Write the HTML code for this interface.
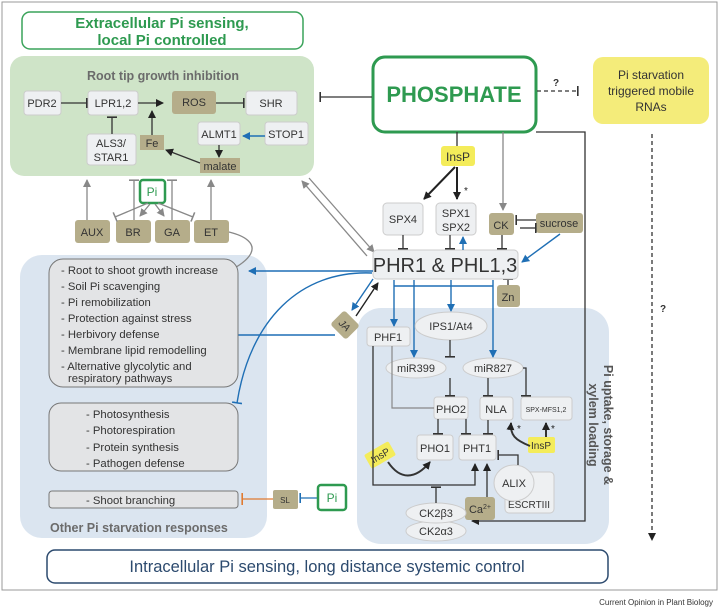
<!DOCTYPE html>
<html><head><meta charset="utf-8"><style>
body{margin:0;background:#fff}
svg{display:block;font-family:"Liberation Sans",sans-serif}
</style></head><body>
<svg width="720" height="615" viewBox="0 0 720 615" xmlns="http://www.w3.org/2000/svg">
<defs>
<marker id="ab" markerWidth="8" markerHeight="8" refX="7" refY="4" orient="auto" markerUnits="userSpaceOnUse"><path d="M0,0 L8,4 L0,8 z" fill="#222"/></marker>
<marker id="ag" markerWidth="8" markerHeight="8" refX="7" refY="4" orient="auto" markerUnits="userSpaceOnUse"><path d="M0,0 L8,4 L0,8 z" fill="#888"/></marker>
<marker id="au" markerWidth="8" markerHeight="8" refX="7" refY="4" orient="auto" markerUnits="userSpaceOnUse"><path d="M0,0 L8,4 L0,8 z" fill="#1f6fb5"/></marker>
<marker id="tb" markerWidth="2" markerHeight="10" refX="1" refY="5" orient="auto" markerUnits="userSpaceOnUse"><rect x="0" y="0" width="1.6" height="10" fill="#333"/></marker>
<marker id="tg" markerWidth="2" markerHeight="10" refX="1" refY="5" orient="auto" markerUnits="userSpaceOnUse"><rect x="0" y="0" width="1.6" height="10" fill="#888"/></marker>
<marker id="tu" markerWidth="2" markerHeight="10" refX="1" refY="5" orient="auto" markerUnits="userSpaceOnUse"><rect x="0" y="0" width="1.6" height="10" fill="#1f6fb5"/></marker>
<marker id="to" markerWidth="2" markerHeight="12" refX="1" refY="6" orient="auto" markerUnits="userSpaceOnUse"><rect x="0" y="0" width="1.6" height="12" fill="#e07a30"/></marker>
</defs>
<rect x="2" y="2" width="715" height="588" fill="none" stroke="#999" stroke-width="1"/>

<rect x="10" y="56" width="304" height="120" rx="14" fill="#cfe4c8"/>
<rect x="20" y="255" width="247" height="283" rx="22" fill="#dbe5f0"/>
<rect x="357" y="308" width="252" height="236" rx="24" fill="#dbe5f0"/>

<rect x="22" y="12" width="281" height="37" rx="8" fill="#fff" stroke="#3aa35a" stroke-width="1.5"/>
<text x="162" y="28" text-anchor="middle" font-size="15" font-weight="bold" fill="#2e9a50">Extracellular Pi sensing,</text>
<text x="162" y="45" text-anchor="middle" font-size="15" font-weight="bold" fill="#2e9a50">local Pi controlled</text>

<text x="163" y="80" text-anchor="middle" font-size="12.5" font-weight="bold" fill="#6b6b6b">Root tip growth inhibition</text>
<g font-size="11" fill="#333" text-anchor="middle">
<rect x="24" y="91" width="37" height="24" rx="3" fill="#eef0f2" stroke="#ccc"/><text x="42" y="107">PDR2</text>
<rect x="88" y="91" width="50" height="24" rx="3" fill="#eef0f2" stroke="#ccc"/><text x="113" y="107">LPR1,2</text>
<rect x="172" y="91" width="44" height="23" rx="3" fill="#b5ad8a"/><text x="194" y="106">ROS</text>
<rect x="246" y="91" width="51" height="24" rx="3" fill="#eef0f2" stroke="#ccc"/><text x="271" y="107">SHR</text>
<rect x="198" y="122" width="42" height="23" rx="3" fill="#eef0f2" stroke="#ccc"/><text x="219" y="138">ALMT1</text>
<rect x="265" y="122" width="43" height="23" rx="3" fill="#eef0f2" stroke="#ccc"/><text x="286" y="138">STOP1</text>
<rect x="87" y="134" width="49" height="31" rx="3" fill="#eef0f2" stroke="#ccc"/><text x="111" y="147">ALS3/</text><text x="111" y="161">STAR1</text>
<rect x="140" y="135" width="24" height="15" fill="#b5ad8a"/><text x="152" y="147">Fe</text>
<rect x="200" y="158" width="40" height="15" fill="#b5ad8a"/><text x="220" y="170">malate</text>
</g>
<g stroke="#333" stroke-width="1.3" fill="none">
<line x1="61" y1="103" x2="87" y2="103" marker-end="url(#tb)"/>
<line x1="138" y1="103" x2="163" y2="103" marker-end="url(#ab)"/>
<line x1="216" y1="103" x2="244" y2="103" marker-end="url(#tb)"/>
<line x1="112" y1="134" x2="112" y2="117" marker-end="url(#tb)"/>
<line x1="152" y1="135" x2="152" y2="111" marker-end="url(#ab)"/>
<line x1="219" y1="145" x2="219" y2="157" marker-end="url(#ab)"/>
<line x1="200" y1="163" x2="166" y2="150" marker-end="url(#ab)"/>
</g>
<line x1="265" y1="136" x2="243" y2="136" stroke="#1f6fb5" stroke-width="1.5" marker-end="url(#au)"/>

<rect x="140" y="180" width="25" height="23" rx="3" fill="#fff" stroke="#2e9a50" stroke-width="2.5"/>
<text x="152" y="196" text-anchor="middle" font-size="12" fill="#2e9a50">Pi</text>
<g font-size="11" fill="#333" text-anchor="middle">
<rect x="75" y="220" width="35" height="23" rx="3" fill="#b5ad8a"/><text x="92" y="236">AUX</text>
<rect x="116" y="220" width="35" height="23" rx="3" fill="#b5ad8a"/><text x="133" y="236">BR</text>
<rect x="155" y="220" width="35" height="23" rx="3" fill="#b5ad8a"/><text x="172" y="236">GA</text>
<rect x="194" y="220" width="35" height="23" rx="3" fill="#b5ad8a"/><text x="211" y="236">ET</text>
</g>
<g stroke="#888" stroke-width="1.3" fill="none">
<line x1="87" y1="220" x2="87" y2="180" marker-end="url(#ag)"/>
<line x1="211" y1="220" x2="211" y2="180" marker-end="url(#ag)"/>
<line x1="134" y1="220" x2="134" y2="180" marker-end="url(#tg)"/>
<line x1="172" y1="220" x2="172" y2="180" marker-end="url(#tg)"/>
<line x1="148" y1="203" x2="115" y2="217" marker-end="url(#tg)"/>
<line x1="158" y1="203" x2="193" y2="217" marker-end="url(#tg)"/>
<line x1="150" y1="204" x2="140" y2="216" marker-end="url(#ag)"/>
<line x1="155" y1="204" x2="164" y2="216" marker-end="url(#ag)"/>
<path d="M229,232 C262,240 270,262 182,289" marker-end="url(#ag)"/>
<line x1="309" y1="178" x2="374" y2="252" marker-end="url(#ag)"/>
<line x1="367" y1="256" x2="302" y2="181" marker-end="url(#ag)"/>
</g>

<rect x="373" y="57" width="163" height="75" rx="12" fill="#fff" stroke="#2e9a50" stroke-width="3"/>
<text x="454" y="102" text-anchor="middle" font-size="22" font-weight="bold" fill="#2e9a50">PHOSPHATE</text>
<line x1="372" y1="97" x2="320" y2="97" stroke="#333" stroke-width="1.3" marker-end="url(#tb)"/>
<line x1="537" y1="91" x2="578" y2="91" stroke="#333" stroke-width="1.3" stroke-dasharray="4,3" marker-end="url(#tb)"/>
<text x="556" y="86" font-size="10" font-weight="bold" fill="#333" text-anchor="middle">?</text>
<rect x="593" y="57" width="116" height="67" rx="10" fill="#f4ec7a"/>
<g font-size="12" fill="#333" text-anchor="middle"><text x="651" y="79">Pi starvation</text><text x="651" y="95">triggered mobile</text><text x="651" y="111">RNAs</text></g>
<line x1="652" y1="134" x2="652" y2="540" stroke="#333" stroke-width="1.3" stroke-dasharray="4,3" marker-end="url(#ab)"/>
<text x="660" y="312" font-size="10" font-weight="bold" fill="#333">?</text>

<line x1="457" y1="132" x2="457" y2="146" stroke="#333" stroke-width="1.3"/>
<rect x="441" y="146" width="34" height="20" rx="3" fill="#f4ec5a"/>
<text x="458" y="161" text-anchor="middle" font-size="12" fill="#333">InsP</text>
<g stroke="#222" stroke-width="2" fill="none">
<line x1="455" y1="167" x2="424" y2="199" marker-end="url(#ab)"/>
<line x1="457" y1="167" x2="457" y2="199" marker-end="url(#ab)"/>
</g>
<text x="464" y="194" font-size="10" fill="#222">*</text>
<line x1="503" y1="132" x2="503" y2="210" stroke="#888" stroke-width="1.3" marker-end="url(#ag)"/>
<polyline points="536,132 585,132 585,521 472,521" fill="none" stroke="#333" stroke-width="1.3" marker-end="url(#ab)"/>

<g font-size="11" fill="#333" text-anchor="middle">
<rect x="383" y="203" width="40" height="32" rx="4" fill="#eef0f2" stroke="#ccc"/><text x="403" y="223">SPX4</text>
<rect x="436" y="203" width="40" height="32" rx="4" fill="#eef0f2" stroke="#ccc"/><text x="456" y="217">SPX1</text><text x="456" y="231">SPX2</text>
<rect x="489" y="213" width="25" height="22" rx="3" fill="#b5ad8a"/><text x="501" y="229">CK</text>
<rect x="536" y="213" width="47" height="20" rx="3" fill="#b5ad8a"/><text x="559" y="227">sucrose</text>
<rect x="497" y="285" width="23" height="22" rx="3" fill="#b5ad8a"/><text x="508" y="301">Zn</text>
</g>
<g stroke="#333" stroke-width="1.3" fill="none">
<polyline points="536,220 516,220" marker-end="url(#tb)"/>
<polyline points="520,228 536,228" marker-end="url(#tb)"/>
<line x1="403" y1="235" x2="403" y2="249" marker-end="url(#tb)"/>
<line x1="450" y1="235" x2="450" y2="249" marker-end="url(#tb)"/>
<line x1="502" y1="235" x2="502" y2="249" marker-end="url(#tb)"/>
<line x1="508" y1="285" x2="508" y2="279" marker-end="url(#tb)"/>
</g>
<rect x="373" y="250" width="145" height="29" rx="4" fill="#eef0f2" stroke="#ccc"/>
<text x="445" y="272" text-anchor="middle" font-size="20" fill="#333">PHR1 &amp; PHL1,3</text>

<g stroke="#1f6fb5" stroke-width="1.4" fill="none">
<line x1="560" y1="234" x2="522" y2="262" marker-end="url(#au)"/>
<line x1="463" y1="250" x2="463" y2="237" marker-end="url(#au)"/>
<line x1="373" y1="271" x2="249" y2="271" marker-end="url(#au)"/>
<line x1="335" y1="335" x2="180" y2="335" marker-end="url(#au)"/>
<path d="M372,273 C300,270 250,320 237,403" marker-end="url(#tu)"/>
<line x1="373" y1="279" x2="352" y2="310" marker-end="url(#au)"/>
<line x1="394" y1="280" x2="394" y2="326" marker-end="url(#au)"/>
<line x1="414" y1="280" x2="414" y2="357" marker-end="url(#au)"/>
<line x1="451" y1="280" x2="451" y2="311" marker-end="url(#au)"/>
<line x1="493" y1="280" x2="493" y2="357" marker-end="url(#au)"/>
</g>
<polyline points="394,286 493,286" fill="none" stroke="#1f6fb5" stroke-width="1.4"/>
<line x1="356" y1="316" x2="378" y2="283" stroke="#222" stroke-width="1.4" marker-end="url(#ab)"/>
<g transform="translate(345,325) rotate(45)"><rect x="-11" y="-10" width="22" height="20" rx="3" fill="#b5ad8a"/><text x="0" y="4" text-anchor="middle" font-size="10" fill="#333" font-style="italic">JA</text></g>

<g font-size="11" fill="#333" text-anchor="middle">
<rect x="367" y="327" width="43" height="19" rx="3" fill="#eef0f2" stroke="#ccc"/><text x="388" y="341">PHF1</text>
<ellipse cx="451" cy="326" rx="36" ry="14" fill="#eef0f2" stroke="#ccc"/><text x="451" y="330">IPS1/At4</text>
<ellipse cx="416" cy="368" rx="30" ry="10" fill="#eef0f2" stroke="#ccc"/><text x="416" y="372">miR399</text>
<ellipse cx="493" cy="368" rx="30" ry="10" fill="#eef0f2" stroke="#ccc"/><text x="493" y="372">miR827</text>
<rect x="434" y="397" width="34" height="22" rx="3" fill="#eef0f2" stroke="#ccc"/><text x="451" y="413">PHO2</text>
<rect x="480" y="397" width="33" height="23" rx="3" fill="#eef0f2" stroke="#ccc"/><text x="496" y="413">NLA</text>
<rect x="521" y="397" width="51" height="23" rx="3" fill="#eef0f2" stroke="#ccc"/><text x="546" y="412" font-size="7">SPX-MFS1,2</text>
<rect x="417" y="435" width="36" height="25" rx="3" fill="#eef0f2" stroke="#ccc"/><text x="435" y="452">PHO1</text>
<rect x="459" y="435" width="37" height="25" rx="3" fill="#eef0f2" stroke="#ccc"/><text x="477" y="452">PHT1</text>
<rect x="505" y="472" width="49" height="41" rx="4" fill="#eef0f2" stroke="#ccc"/><text x="529" y="508" font-size="10">ESCRTIII</text>
<ellipse cx="514" cy="483" rx="20" ry="18" fill="#eef0f2" stroke="#ccc"/><text x="514" y="487">ALIX</text>
<rect x="465" y="497" width="30" height="23" rx="3" fill="#b5ad8a"/><text x="480" y="513">Ca<tspan font-size="7" dy="-4">2+</tspan></text>
<ellipse cx="436" cy="531" rx="30" ry="10" fill="#eef0f2" stroke="#ccc"/><text x="436" y="535">CK2α3</text>
<ellipse cx="436" cy="513" rx="30" ry="10" fill="#eef0f2" stroke="#ccc"/><text x="436" y="517">CK2β3</text>
<rect x="528" y="437" width="27" height="16" rx="2" fill="#f4ec5a"/><text x="541" y="449" font-size="10">InsP</text>
<g transform="translate(380,455) rotate(-30)"><rect x="-14" y="-8" width="28" height="16" rx="2" fill="#f4ec5a"/><text x="0" y="4" font-size="10">InsP</text></g>
</g>
<g stroke="#333" stroke-width="1.3" fill="none">
<line x1="450" y1="340" x2="450" y2="357" marker-end="url(#tb)"/>
<line x1="450" y1="378" x2="450" y2="396" marker-end="url(#tb)"/>
<line x1="488" y1="378" x2="488" y2="396" marker-end="url(#tb)"/>
<polyline points="523,368 526,368 526,396" marker-end="url(#tb)"/>
<line x1="438" y1="419" x2="438" y2="434" marker-end="url(#tb)"/>
<line x1="466" y1="419" x2="466" y2="434" marker-end="url(#tb)"/>
<line x1="488" y1="420" x2="488" y2="434" marker-end="url(#tb)"/>
<polyline points="518,465 518,455 498,455" marker-end="url(#tb)"/>
<polyline points="373,346 373,485 475,485 475,464" marker-end="url(#ab)"/>
<line x1="487" y1="497" x2="487" y2="464" marker-end="url(#ab)"/>
<line x1="436" y1="503" x2="436" y2="487" marker-end="url(#tb)"/>
<path d="M388,462 C400,480 415,480 430,462" stroke-width="2" marker-end="url(#ab)"/>
<path d="M530,446 C515,440 510,435 511,423" stroke-width="2" marker-end="url(#ab)"/>
<line x1="546" y1="437" x2="546" y2="423" stroke-width="2" marker-end="url(#ab)"/>
</g>
<polyline points="392,346 392,408 434,408" fill="none" stroke="#888" stroke-width="1.2"/>
<text x="517" y="432" font-size="10" fill="#222">*</text><text x="551" y="432" font-size="10" fill="#222">*</text>
<text transform="translate(604,425) rotate(90)" text-anchor="middle" font-size="12.5" font-weight="bold" fill="#555">Pi uptake, storage &amp;</text>
<text transform="translate(589,425) rotate(90)" text-anchor="middle" font-size="12.5" font-weight="bold" fill="#555">xylem loading</text>

<rect x="49" y="259" width="189" height="128" rx="14" fill="#e3e4e6" stroke="#777"/>
<g font-size="11.3" fill="#333">
<text x="61" y="274">- Root to shoot growth increase</text>
<text x="61" y="290">- Soil Pi scavenging</text>
<text x="61" y="306">- Pi remobilization</text>
<text x="61" y="322">- Protection against stress</text>
<text x="61" y="338">- Herbivory defense</text>
<text x="61" y="354">- Membrane lipid remodelling</text>
<text x="61" y="370">- Alternative glycolytic and</text>
<text x="68" y="382">respiratory pathways</text>
</g>
<rect x="49" y="403" width="189" height="68" rx="12" fill="#e3e4e6" stroke="#777"/>
<g font-size="11.3" fill="#333">
<text x="86" y="418">- Photosynthesis</text>
<text x="86" y="434">- Photorespiration</text>
<text x="86" y="451">- Protein synthesis</text>
<text x="86" y="467">- Pathogen defense</text>
</g>
<rect x="49" y="491" width="189" height="17" rx="3" fill="#e3e4e6" stroke="#777"/>
<text x="86" y="504" font-size="11.3" fill="#333">- Shoot branching</text>
<text x="50" y="532" font-size="12.5" font-weight="bold" fill="#6b6b6b">Other Pi starvation responses</text>
<line x1="273" y1="499" x2="242" y2="499" stroke="#e07a30" stroke-width="1.3" marker-end="url(#to)"/>
<rect x="273" y="490" width="25" height="19" rx="2" fill="#b5ad8a"/>
<text x="285" y="503" text-anchor="middle" font-size="8" fill="#333">SL</text>
<line x1="318" y1="498" x2="300" y2="498" stroke="#1f6fb5" stroke-width="1.3" marker-end="url(#tu)"/>
<rect x="318" y="485" width="28" height="25" rx="3" fill="#fff" stroke="#2e9a50" stroke-width="2.5"/>
<text x="332" y="502" text-anchor="middle" font-size="12" fill="#2e9a50">Pi</text>

<rect x="47" y="550" width="561" height="33" rx="8" fill="#fff" stroke="#2c4a6e" stroke-width="1.5"/>
<text x="327" y="572" text-anchor="middle" font-size="16.5" fill="#2c4a6e">Intracellular Pi sensing, long distance systemic  control</text>
<text x="713" y="605" text-anchor="end" font-size="8" fill="#333">Current Opinion in Plant Biology</text>
</svg>
</body></html>
